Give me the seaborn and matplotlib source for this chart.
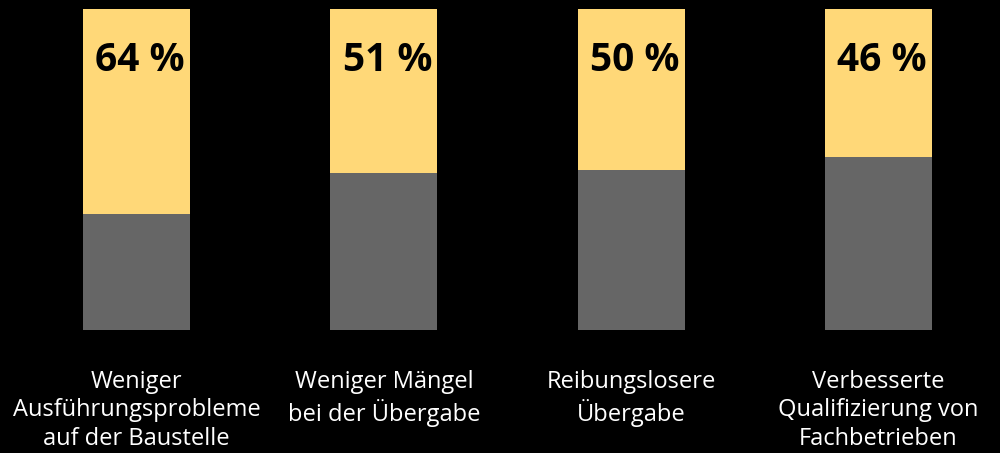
import matplotlib
import numpy as np
import pandas as pd
import matplotlib.pyplot as plt
import seaborn as sns

categories = ['Weniger\nAusführungsprobleme\nauf der Baustelle',
              'Weniger Mängel\nbei der Übergabe',
              'Reibungslosere\nÜbergabe',
              'Verbesserte\nQualifizierung von\nFachbetrieben']
values = [64, 51, 50, 46]
labels = ['64 %', '51 %', '50 %', '46 %']

df = pd.DataFrame({'cat': categories, 'val': values})
df['rest'] = 100 - df['val']
df['total'] = 100

sns.set_style('white')
plt.rcParams['font.family'] = ['Open Sans', 'DejaVu Sans']

fig = plt.figure(figsize=(10, 4.53), dpi=100, facecolor='black')
ax = fig.add_axes([0, 123 / 453, 1, 321 / 453])
ax.set_facecolor('black')

# yellow = share, grey = rest (stacked)
sns.barplot(data=df, x='cat', y='total', color='#FFD878', width=0.433,
            saturation=1, linewidth=0, ax=ax)
sns.barplot(data=df, x='cat', y='rest', color='#666666', width=0.433,
            saturation=1, linewidth=0, ax=ax)

for i, lab in enumerate(labels):
    ax.text(i + 0.015, 84, lab, ha='center', va='center', fontsize=28,
            fontweight='bold', color='black')

ax.set_xlim(-136.5 / 247.33, (1000 - 136.5) / 247.33)
ax.set_ylim(0, 100)
ax.set_xlabel('')
ax.set_ylabel('')
ax.set_yticks([])
ax.set_xticks(range(len(categories)))
ax.set_xticklabels(categories, color='white', fontsize=17, linespacing=1.25)
ax.tick_params(axis='x', length=0, pad=28.5)
sns.despine(left=True, bottom=True)

plt.savefig('out.png', dpi=100, facecolor='black')
